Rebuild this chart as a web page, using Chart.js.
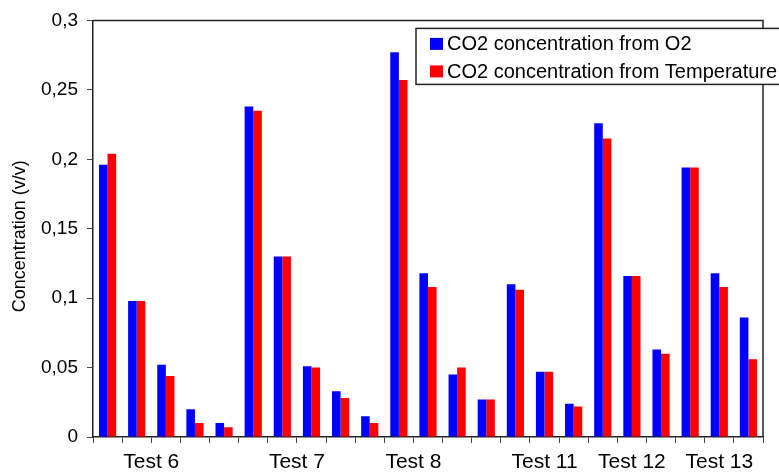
<!DOCTYPE html>
<html>
<head>
<meta charset="utf-8">
<script src="https://cdn.jsdelivr.net/npm/chart.js@4"></script>
<style>
  body { margin: 0; background: #fff; }
</style>
</head>
<body>
<canvas id="myChart" width="779" height="473"></canvas>
<script>
// one entry per pair of bars
const categories = ['6a', '6b', '6c', '6d', '6e', '7a', '7b', '7c', '7d', '7e',
    '8a', '8b', '8c', '8d', '11a', '11b', '11c', '12a', '12b', '12c', '13a', '13b', '13c']
const fromO2 = [0.196, 0.098, 0.052, 0.020, 0.010, 0.238, 0.130, 0.051, 0.033, 0.015,
    0.277, 0.118, 0.045, 0.027, 0.110, 0.047, 0.024, 0.226, 0.116, 0.063, 0.194, 0.118, 0.086]
const fromTemp = [0.204, 0.098, 0.044, 0.010, 0.007, 0.235, 0.130, 0.050, 0.028, 0.010,
    0.257, 0.108, 0.050, 0.027, 0.106, 0.047, 0.022, 0.215, 0.116, 0.060, 0.194, 0.108, 0.056]

// test names and where they sit along the category axis (in category units)
const testNames = ['Test 6', 'Test 7', 'Test 8', 'Test 11', 'Test 12', 'Test 13']
const testAt = [1.5, 6.5, 10.5, 15, 18, 21]

const yTicks = [0, 0.05, 0.1, 0.15, 0.2, 0.25, 0.3]

const FONT = "'Liberation Sans', Arial, sans-serif"

// top and right edge of the plot frame
const frame = {
    id: 'frame',
    beforeDatasetsDraw(chart) {
        const a = chart.chartArea
        const ctx = chart.ctx
        ctx.save()
        ctx.strokeStyle = '#222'
        ctx.lineWidth = 1.5
        ctx.beginPath()
        ctx.moveTo(a.left, a.top)
        ctx.lineTo(a.right, a.top)
        ctx.lineTo(a.right, a.bottom)
        ctx.stroke()
        ctx.restore()
    }
}

// boxed legend sitting over the top right corner
const boxLegend = {
    id: 'boxLegend',
    afterDraw(chart) {
        const a = chart.chartArea
        const ctx = chart.ctx
        const x = a.right - 347
        const y = a.top + 8
        ctx.save()
        ctx.fillStyle = '#fff'
        ctx.fillRect(x, y, 400, 56)
        ctx.strokeStyle = '#222'
        ctx.lineWidth = 1.5
        ctx.strokeRect(x, y, 400, 56)
        ctx.font = '20px ' + FONT
        ctx.textBaseline = 'middle'
        chart.data.datasets.forEach((ds, i) => {
            const cy = y + 15.5 + i * 27.5
            ctx.fillStyle = ds.backgroundColor
            ctx.fillRect(x + 14, cy - 6, 13, 12)
            ctx.fillStyle = '#000'
            ctx.fillText(ds.label, x + 31, cy + 1)
        })
        ctx.restore()
    }
}

const data = {
    labels: categories,
    datasets: [{
        label: 'CO2 concentration from O2',
        backgroundColor: '#0000ff',
        data: fromO2,
    }, {
        label: 'CO2 concentration from Temperature',
        backgroundColor: '#ff0000',
        data: fromTemp,
    }]
}

const config = {
    type: 'bar',
    data: data,
    options: {
        responsive: false,
        animation: false,
        devicePixelRatio: 1,
        layout: {
            padding: { top: 18, right: 16, left: 0, bottom: 0 }
        },
        datasets: {
            bar: {
                categoryPercentage: 0.59,
                barPercentage: 1,
            }
        },
        plugins: {
            legend: { display: false },
            tooltip: { enabled: false }
        },
        scales: {
            x: {
                grid: {
                    drawOnChartArea: false,
                    drawTicks: true,
                    tickLength: 6,
                    color: '#444'
                },
                border: { color: '#222', width: 1.5 },
                ticks: { display: false },
                afterFit: (s) => { s.height = 6 }
            },
            x2: {
                type: 'linear',
                position: 'bottom',
                bounds: 'data',
                offset: false,
                min: -0.5,
                max: categories.length - 0.5,
                grid: { display: false, offset: false },
                border: { display: false },
                afterBuildTicks: (s) => {
                    s.ticks = testAt.map(v => ({ value: v }))
                },
                ticks: {
                    autoSkip: false,
                    maxRotation: 0,
                    padding: -1,
                    color: '#000',
                    font: { family: FONT, size: 21 },
                    callback: (value, index) => testNames[index]
                },
                afterFit: (s) => { s.height = 30 }
            },
            y: {
                min: 0,
                max: 0.3,
                afterBuildTicks: (s) => {
                    s.ticks = yTicks.map(v => ({ value: v }))
                },
                grid: {
                    drawOnChartArea: false,
                    drawTicks: true,
                    tickLength: 6,
                    color: '#444'
                },
                border: { color: '#222', width: 1.5 },
                ticks: {
                    padding: 9,
                    color: '#000',
                    font: { family: FONT, size: 19 },
                    callback: (value) => String(+value.toFixed(2)).replace('.', ',')
                },
                title: {
                    display: true,
                    text: 'Concentration (v/v)   ',
                    color: '#000',
                    font: { family: FONT, size: 18 },
                    padding: { top: 9, bottom: 0 }
                },
                afterFit: (s) => { s.width = 93 }
            }
        }
    },
    plugins: [frame, boxLegend]
}

const myChart = new Chart(document.getElementById('myChart'), config)
</script>
</body>
</html>
